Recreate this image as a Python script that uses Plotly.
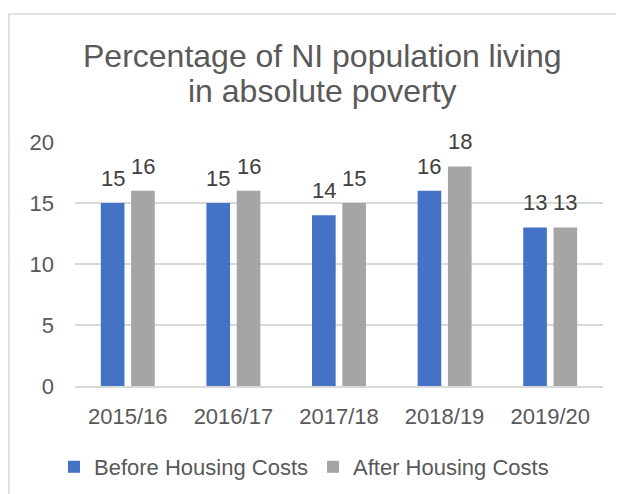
import plotly.graph_objects as go

years = ["2015/16", "2016/17", "2017/18", "2018/19", "2019/20"]
before_hc = [15, 15, 14, 16, 13]
after_hc = [16, 16, 15, 18, 13]
y_ticks = [0, 5, 10, 15, 20]
title_lines = ["Percentage of NI population living", "in absolute poverty"]

# page body has an 8px margin, so the figure is 8px smaller than the window
W, H = 616, 486
L, R, T, B = 67, 21, 134, 108
pw, ph = W - L - R, H - T - B

font = "Liberation Sans, Arial, sans-serif"
tick_col = "#595959"
lab_col = "#404040"
FS = 22
BARGAP, GROUPGAP = 0.426, 0.22
slot_px = pw / len(years) * (1 - BARGAP) / 2

fig = go.Figure()
fig.add_trace(go.Bar(
    x=years, y=before_hc, name="Before Housing Costs",
    marker=dict(color="#4472C4", line=dict(width=0)),
))
fig.add_trace(go.Bar(
    x=years, y=after_hc, name="After Housing Costs",
    marker=dict(color="#A5A5A5", line=dict(width=0)),
))

annotations = []
for series, sign in ((before_hc, -1), (after_hc, 1)):
    for yr, v in zip(years, series):
        annotations.append(dict(
            x=yr, y=v, xref="x", yref="y", text=str(v), showarrow=False,
            xanchor="center", yanchor="bottom", xshift=sign * slot_px / 2,
            yshift=10, font=dict(size=FS, color=lab_col, family=font),
        ))

def px_x(p):
    return (p - L) / pw

def px_y(p):
    return (H - B - p) / ph

for line, yc in zip(title_lines, (48, 83)):
    annotations.append(dict(
        x=px_x(314), y=px_y(yc), xref="paper", yref="paper", text=line,
        showarrow=False, xanchor="center", yanchor="middle",
        font=dict(size=32, color=tick_col, family=font),
    ))

fig.update_layout(
    width=W, height=H,
    margin=dict(l=L, r=R, t=T, b=B, autoexpand=False),
    paper_bgcolor="white", plot_bgcolor="white",
    barmode="group", bargap=BARGAP, bargroupgap=GROUPGAP,
    font=dict(family=font, color=tick_col),
    xaxis=dict(
        showgrid=False, showline=True, linecolor="#D9D9D9", linewidth=1.5,
        tickfont=dict(size=FS, color=tick_col), ticks="", automargin=False,
        ticklabelstandoff=10,
    ),
    yaxis=dict(
        range=[0, 20], tickvals=y_ticks, showgrid=True, gridcolor="#D9D9D9",
        gridwidth=1.5, zeroline=False, showline=False, ticks="",
        tickfont=dict(size=FS, color=tick_col), ticklabelstandoff=20,
        automargin=False,
    ),
    legend=dict(
        orientation="h", x=px_x(296), xanchor="center",
        y=px_y(459), yanchor="middle",
        font=dict(size=FS, color=tick_col), itemwidth=30,
        traceorder="normal",
    ),
    annotations=annotations,
    shapes=[dict(
        type="rect", xref="paper", yref="paper",
        x0=px_x(1), x1=px_x(700), y0=px_y(560), y1=px_y(6),
        line=dict(color="#D9D9D9", width=1.5), fillcolor="rgba(0,0,0,0)",
        layer="below",
    )],
)

fig.write_html("out.html")
